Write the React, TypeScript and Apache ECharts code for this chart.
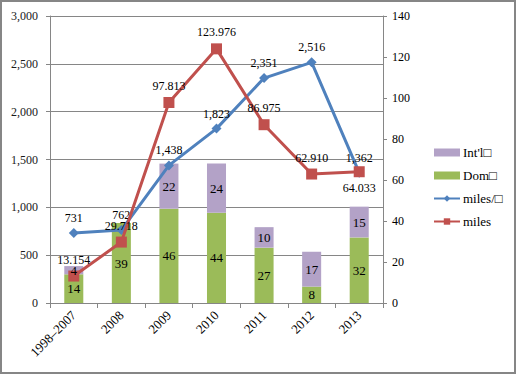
import React, { useEffect, useRef } from "react";
import * as echarts from "echarts";

const categories = ["1998–2007", "2008", "2009", "2010", "2011", "2012", "2013"];
const domValues = [14, 39, 46, 44, 27, 8, 32];
const intlValues = [4, 0, 22, 24, 10, 17, 15];
const milesPerValues = [731, 762, 1438, 1823, 2351, 2516, 1362];
const milesValues = [13.154, 29.718, 97.813, 123.976, 86.975, 62.91, 64.033];

const FONT = "'Liberation Serif', 'Times New Roman', serif";

export default function App() {
  const ref = useRef<HTMLDivElement>(null);
  useEffect(() => {
    document.body.style.margin = "0";
    const chart = echarts.init(ref.current!, null, { renderer: "svg" });
    const labelStyle = { fontFamily: FONT, fontSize: 12, color: "#000" };
    chart.setOption({
      animation: false,
      textStyle: { fontFamily: FONT },
      grid: { left: 50, right: 134, top: 16, bottom: 72 },
      legend: {
        orient: "vertical",
        left: 428,
        top: 141,
        itemWidth: 26,
        itemHeight: 8,
        itemGap: 10,
        textStyle: { fontFamily: FONT, fontSize: 13, color: "#000", padding: [0, 0, 0, -2] },
        data: [
          { name: "Int'l□", icon: "rect" },
          { name: "Dom□", icon: "rect" },
          { name: "miles/□" },
          { name: "miles" },
        ],
      },
      xAxis: {
        type: "category",
        data: categories,
        boundaryGap: true,
        axisLine: { lineStyle: { color: "#868686", width: 1 } },
        axisTick: { show: true, interval: 0, length: 5, lineStyle: { color: "#868686" } },
        axisLabel: { interval: 0, rotate: 45, margin: 10, fontFamily: FONT, fontSize: 13, color: "#000" },
      },
      yAxis: [
        {
          type: "value",
          min: 0,
          max: 3000,
          interval: 500,
          position: "left",
          axisLine: { show: true, lineStyle: { color: "#868686" } },
          axisTick: { show: true, length: 4, lineStyle: { color: "#868686" } },
          axisLabel: {
            margin: 12,
            fontFamily: FONT,
            fontSize: 12,
            color: "#1a1a1a",
            formatter: (v: number) => v.toLocaleString("en-US"),
          },
          splitLine: { show: true, lineStyle: { color: "#868686", width: 1 } },
        },
        {
          type: "value",
          min: 0,
          max: 140,
          interval: 20,
          position: "right",
          axisLine: { show: true, lineStyle: { color: "#868686" } },
          axisTick: { show: true, length: 4, lineStyle: { color: "#868686" } },
          axisLabel: { margin: 9, fontFamily: FONT, fontSize: 12, color: "#000" },
          splitLine: { show: false },
        },
      ],
      series: [
        {
          name: "Dom□",
          type: "bar",
          stack: "total",
          yAxisIndex: 1,
          barWidth: "40%",
          data: domValues,
          itemStyle: { color: "#9BBB59" },
          label: { show: true, position: "inside", ...labelStyle, fontSize: 13 },
          z: 2,
        },
        {
          name: "Int'l□",
          type: "bar",
          stack: "total",
          yAxisIndex: 1,
          barWidth: "40%",
          data: intlValues.map((v) => (v === 0 ? null : v)),
          itemStyle: { color: "#B3A2C7" },
          label: { show: false },
          z: 2,
        },
        {
          name: "miles/□",
          type: "line",
          yAxisIndex: 0,
          data: milesPerValues,
          symbol: "diamond",
          symbolSize: 10,
          lineStyle: { color: "#4F81BD", width: 3 },
          itemStyle: { color: "#4F81BD" },
          label: {
            show: true,
            position: "top",
            distance: 4,
            ...labelStyle,
            formatter: (p: any) => Number(p.value).toLocaleString("en-US"),
          },
          z: 3,
        },
        {
          name: "miles",
          type: "line",
          yAxisIndex: 1,
          data: milesValues.map((v, i) =>
            i === milesValues.length - 1
              ? { value: v, label: { position: "bottom" } }
              : v
          ),
          symbol: "rect",
          symbolSize: 11,
          lineStyle: { color: "#C0504D", width: 3 },
          itemStyle: { color: "#C0504D" },
          label: {
            show: true,
            position: "top",
            distance: 5,
            ...labelStyle,
            formatter: (p: any) => Number(p.value).toFixed(3),
          },
          z: 4,
        },
        {
          name: "intlLabels",
          type: "custom",
          yAxisIndex: 1,
          silent: true,
          z: 10,
          data: intlValues.map((v, i) => [i, domValues[i], v]),
          encode: { x: 0, y: 1 },
          renderItem: (params: any, api: any) => {
            const v = api.value(2);
            if (!v) return null;
            const pt = api.coord([api.value(0), api.value(1) + v / 2]);
            return {
              type: "text",
              x: pt[0],
              y: pt[1],
              style: {
                text: String(v),
                align: "center",
                verticalAlign: "middle",
                font: `13px ${FONT}`,
                fill: "#000",
              },
            };
          },
        },
      ],
      graphic: [
        {
          type: "rect",
          shape: { x: 1, y: 1, width: 514, height: 372 },
          style: { fill: "none", stroke: "#868686", lineWidth: 2 },
          silent: true,
        },
      ],
    });
    return () => chart.dispose();
  }, []);
  return <div ref={ref} style={{ width: 517, height: 375 }} />;
}
